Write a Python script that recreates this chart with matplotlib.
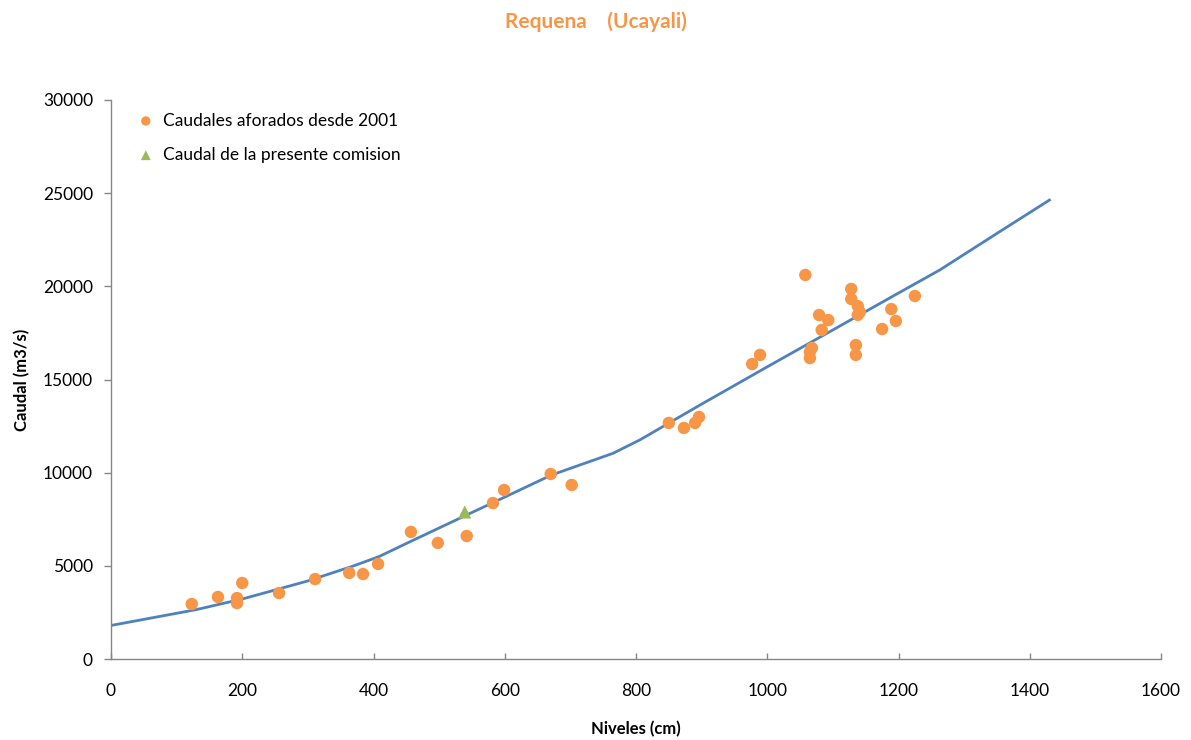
import matplotlib
matplotlib.use("Agg")
import matplotlib.pyplot as plt

# Measured discharges (level in cm, discharge in m3/s)
niveles_aforo = [123, 163, 192, 192, 200, 256, 311, 363, 384, 407, 457, 498, 542,
                 582, 599, 670, 702, 850, 873, 890, 896, 977, 989, 1058, 1065,
                 1065, 1068, 1079, 1083, 1093, 1128, 1128, 1135, 1135, 1138,
                 1141, 1138, 1175, 1189, 1196, 1225]
caudal_aforo = [2950, 3330, 3000, 3270, 4080, 3540, 4290, 4620, 4560, 5100, 6820,
                6230, 6600, 8370, 9070, 9930, 9340, 12670, 12400, 12670, 12990,
                15830, 16320, 20610, 16480, 16150, 16690, 18460, 17660, 18190,
                19860, 19320, 16850, 16320, 18940, 18620, 18470, 17710, 18780,
                18140, 19480]

# Discharge of the present survey
nivel_comision = [539]
caudal_comision = [7890]

# Rating curve
curva_nivel = [0, 130, 200, 260, 300, 369, 408, 456, 542, 600, 671, 765, 806,
               900, 1000, 1100, 1200, 1263, 1350, 1430]
curva_caudal = [1800, 2650, 3220, 3800, 4190, 4990, 5490, 6300, 7730, 8690,
                9870, 11040, 11760, 13680, 15680, 17660, 19640, 20880, 22840,
                24630]

plt.rcParams['font.family'] = ['Lato', 'DejaVu Sans']

fig = plt.figure(figsize=(11.91, 7.40), dpi=100)
ax = fig.add_axes([111 / 1191, 1 - 659 / 740, (1161 - 111) / 1191, (659 - 100) / 740])

ax.plot(curva_nivel, curva_caudal, color='#4F81BD', lw=2.0, zorder=2)
ax.scatter(niveles_aforo, caudal_aforo, s=80, color='#F79646', edgecolors='none',
           zorder=3, label='Caudales aforados desde 2001')
ax.scatter(nivel_comision, caudal_comision, s=90, marker='^', color='#9BBB59',
           edgecolors='none', zorder=4, label='Caudal de la presente comision')

ax.set_xlim(0, 1600)
ax.set_ylim(0, 30000)
ax.set_xticks(range(0, 1601, 200))
ax.set_yticks(range(0, 30001, 5000))

for s in ('top', 'right'):
    ax.spines[s].set_visible(False)
for s in ('left', 'bottom'):
    ax.spines[s].set_color('#868686')
    ax.spines[s].set_linewidth(1.0)
ax.tick_params(axis='both', colors='#868686', labelcolor='black', labelsize=12.5,
               width=1.0)
ax.tick_params(axis='y', direction='out', length=5, pad=8)
ax.tick_params(axis='x', direction='in', length=4, pad=17)

ax.set_xlabel('Niveles (cm)', fontsize=12, fontweight='bold', labelpad=16)
ax.set_ylabel('Caudal (m3/s)', fontsize=12, fontweight='bold', labelpad=9)

fig.text(0.5, 1 - 22 / 740, 'Requena    (Ucayali)', ha='center', va='center',
         fontsize=15, fontweight='bold', color='#F79646')

leg = ax.legend(loc='upper left', bbox_to_anchor=(0.01, 0.99), frameon=False,
                fontsize=12.5, handletextpad=0.0, labelspacing=1.05,
                markerscale=0.75, borderaxespad=0.0)

fig.savefig('out.png', dpi=100, facecolor='white')
